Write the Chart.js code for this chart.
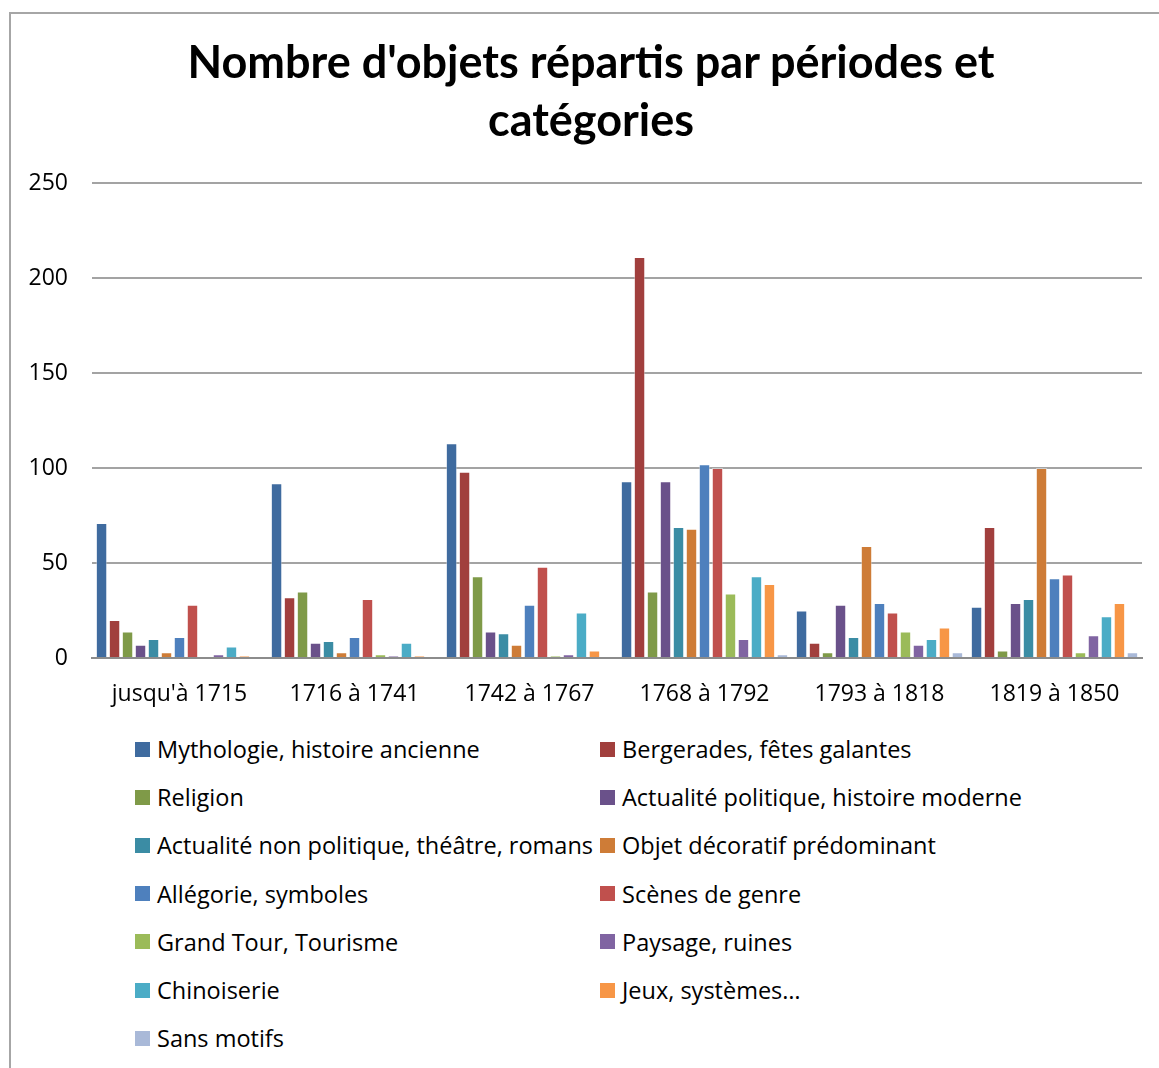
<!DOCTYPE html>
<html>
<head>
<meta charset="utf-8">
<script src="https://cdn.jsdelivr.net/npm/chart.js@4/dist/chart.umd.min.js"></script>
<style>
  html, body { margin: 0; padding: 0; background: #fff; }
  #wrap { position: relative; width: 1159px; height: 1068px; overflow: hidden; font-family: "Open Sans", "Noto Sans", sans-serif; }
  #frame { position: absolute; left: 9px; top: 12px; width: 1200px; height: 1200px; border-left: 2px solid #a6a6a6; border-top: 2px solid #a6a6a6; }
  #title { position: absolute; left: 22px; top: 32px; width: 1138px; text-align: center; font-family: Lato, "Noto Sans", sans-serif; font-weight: bold; font-size: 45px; line-height: 58px; color: #000; }
  #chartBox { position: absolute; left: 0; top: 0; width: 1159px; height: 720px; }
  #legend { position: absolute; left: 0; top: 725px; width: 1159px; }
  .lg-item { position: absolute; height: 48px; display: flex; align-items: center; font-size: 23.5px; color: #000; white-space: nowrap; }
  .lg-box { width: 15px; height: 15px; margin-right: 7px; flex: none; }
</style>
</head>
<body>
<div id="wrap">
  <div id="frame"></div>
  <div id="chartBox"><canvas id="c"></canvas></div>
  <div id="title"></div>
  <div id="legend"></div>
</div>
<script>
const titleLines = ["Nombre d'objets répartis par périodes et", "catégories"];
const categories = ["jusqu'à 1715", "1716 à 1741", "1742 à 1767", "1768 à 1792", "1793 à 1818", "1819 à 1850"];
const seriesNames = [
  "Mythologie, histoire ancienne",
  "Bergerades, fêtes galantes",
  "Religion",
  "Actualité politique, histoire moderne",
  "Actualité non politique, théâtre, romans",
  "Objet décoratif prédominant",
  "Allégorie, symboles",
  "Scènes de genre",
  "Grand Tour, Tourisme",
  "Paysage, ruines",
  "Chinoiserie",
  "Jeux, systèmes…",
  "Sans motifs"
];
const mythologie = [71, 92, 113, 93, 25, 27];
const bergerades = [20, 32, 98, 211, 8, 69];
const religion = [14, 35, 43, 35, 3, 4];
const actualitePolitique = [7, 8, 14, 93, 28, 29];
const actualiteNonPolitique = [10, 9, 13, 69, 11, 31];
const objetDecoratif = [3, 3, 7, 68, 59, 100];
const allegorie = [11, 11, 28, 102, 29, 42];
const scenesGenre = [28, 31, 48, 100, 24, 44];
const grandTour = [0, 2, 1, 34, 14, 3];
const paysage = [2, 1, 2, 10, 7, 12];
const chinoiserie = [6, 8, 24, 43, 10, 22];
const jeux = [1, 1, 4, 39, 16, 29];
const sansMotifs = [0, 0, 0, 2, 3, 3];
const yTicks = [0, 50, 100, 150, 200, 250];

const seriesValues = [mythologie, bergerades, religion, actualitePolitique, actualiteNonPolitique,
  objetDecoratif, allegorie, scenesGenre, grandTour, paysage, chinoiserie, jeux, sansMotifs];
const colors = ["#3F6B9F", "#A13F3D", "#7F9A48", "#6A518A", "#3B8CA4", "#CE7C37",
  "#4E80BD", "#C0504D", "#9BBB59", "#8064A2", "#4BACC6", "#F79646", "#A9B9D8"];

const FONT = "'Open Sans', 'Noto Sans', sans-serif";

document.getElementById('title').innerHTML = titleLines.map(t => t.replace(/&/g, '&amp;')).join('<br>');

const datasets = seriesNames.map((name, i) => ({
  label: name,
  data: seriesValues[i],
  backgroundColor: colors[i],
  borderColor: "rgba(255,255,255,0.45)",
  borderWidth: 1,
  categoryPercentage: 0.965,
  barPercentage: 0.88
}));

const chart = new Chart(document.getElementById('c'), {
  type: 'bar',
  data: { labels: categories, datasets },
  options: {
    responsive: true,
    maintainAspectRatio: false,
    animation: false,
    layout: { padding: { top: 183, right: 17, left: 0, bottom: 0 } },
    plugins: {
      legend: { display: false },
      tooltip: { enabled: false },
      title: { display: false }
    },
    scales: {
      x: {
        grid: { display: false },
        border: { display: true, color: '#8c8c8c', width: 2 },
        ticks: { color: '#000', font: { family: FONT, size: 23 }, padding: 15, maxRotation: 0 },
        afterFit: (s) => { s.height = 62; }
      },
      y: {
        min: 0, max: 250,
        afterBuildTicks: (s) => { s.ticks = yTicks.map(v => ({ value: v })); },
        grid: { color: '#a3a3a3', lineWidth: 2, drawTicks: false },
        border: { display: false },
        ticks: { color: '#000', font: { family: FONT, size: 23 }, padding: 24 },
        afterFit: (s) => { s.width = 92; }
      }
    }
  }
});

// HTML legend in two columns, built from the chart's datasets
const legendEl = document.getElementById('legend');
chart.data.datasets.forEach((ds, i) => {
  const col = i % 2, row = Math.floor(i / 2);
  const item = document.createElement('div');
  item.className = 'lg-item';
  item.style.left = (col === 0 ? 135 : 600) + 'px';
  item.style.top = (row * 48.2) + 'px';
  const box = document.createElement('span');
  box.className = 'lg-box';
  box.style.background = ds.backgroundColor;
  const txt = document.createElement('span');
  txt.textContent = ds.label;
  item.appendChild(box); item.appendChild(txt);
  legendEl.appendChild(item);
});
</script>
</body>
</html>
